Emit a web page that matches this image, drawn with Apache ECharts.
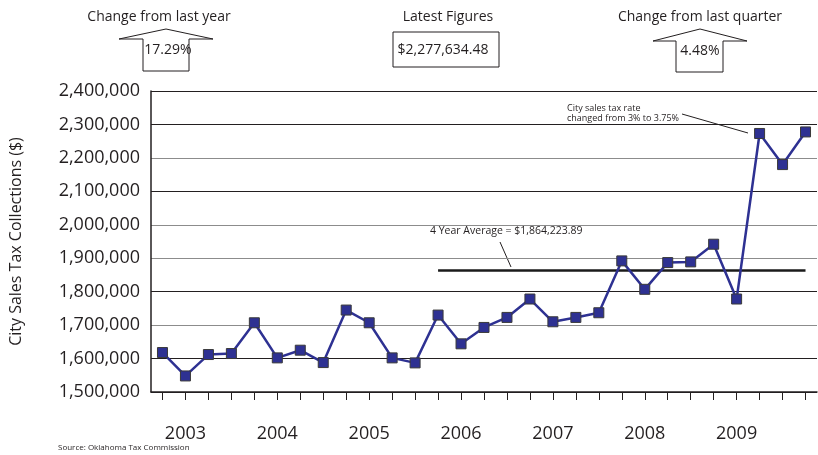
<!DOCTYPE html>
<html>
<head>
<meta charset="utf-8">
<script src="https://cdn.jsdelivr.net/npm/echarts@6/dist/echarts.min.js"></script>
<style>
html,body{margin:0;padding:0;background:#fff;}
#c{width:818px;height:455px;}
</style>
</head>
<body>
<div id="c"></div>
<script>
// ---- data ----
const years = ['2003','2004','2005','2006','2007','2008','2009','2010'];
const yearLabels = ['2003','2004','2005','2006','2007','2008','2009'];
const quarters = [];
years.forEach(y => ['Q1','Q2','Q3','Q4'].forEach(q => quarters.push(y + ' ' + q)));
const categories = quarters.slice(0, 29);
const collections = [1618000,1548000,1612000,1615000,1707000,1602000,1625000,1588000,
  1745000,1707000,1602000,1587000,1730000,1644000,1693000,1723000,
  1778000,1710000,1723000,1737000,1892000,1807000,1887000,1889000,
  1941883,1778000,2273000,2179971,2277634];
const yTicks = [1500000, 2400000, 100000]; // min, max, interval
const fourYearAverage = 1864223.89;
const averageRange = [12, 28];
const headerTitles = ['Change from last year', 'Latest Figures', 'Change from last quarter'];
const headerValues = ['17.29%', '$2,277,634.48', '4.48%'];
const averageLabel = '4 Year Average = $1,864,223.89';
const rateNote = ['City sales tax rate', 'changed from 3% to 3.75%'];
const sourceNote = 'Source: Oklahoma Tax Commission';
const yAxisTitle = 'City Sales Tax Collections ($)';

const FONT = 'Open Sans';
const TXT = '#231f20';
const DARK = '#231f20', GRAY = '#8c8c8c';

const chart = echarts.init(document.getElementById('c'), null, {renderer: 'canvas'});

function txt(x, y, s, size, align) {
  return {type: 'text', x: x, y: y, silent: true,
    style: {text: s, fontFamily: FONT, fontSize: size, fill: TXT,
      align: align || 'center', verticalAlign: 'middle'}};
}

chart.setOption({
  animation: false,
  backgroundColor: '#fff',
  grid: {left: 147, right: 1, top: 91, bottom: 63, containLabel: false},
  xAxis: {
    type: 'category',
    data: categories,
    boundaryGap: true,
    axisLine: {show: true, lineStyle: {color: DARK, width: 1.5}},
    axisTick: {show: true, alignWithLabel: true, interval: 0, length: 8, lineStyle: {color: DARK, width: 1}},
    axisLabel: {
      interval: (i) => i % 4 === 1 && yearLabels.indexOf(categories[i].slice(0, 4)) >= 0,
      formatter: (v) => v.slice(0, 4),
      margin: 33,
      fontFamily: FONT, fontSize: 18, color: TXT
    },
    splitLine: {show: false}
  },
  yAxis: {
    type: 'value',
    min: yTicks[0], max: yTicks[1], interval: yTicks[2],
    name: yAxisTitle,
    nameLocation: 'middle',
    nameGap: 127,
    nameTextStyle: {fontFamily: FONT, fontSize: 16, color: TXT},
    axisLine: {show: true, lineStyle: {color: DARK, width: 1.5}},
    axisTick: {show: false},
    axisLabel: {
      margin: 11,
      fontFamily: FONT, fontSize: 18, color: TXT,
      formatter: (v) => v.toLocaleString('en-US')
    },
    splitLine: {show: true, lineStyle: {
      color: [DARK, DARK, GRAY, DARK, GRAY, GRAY, DARK, GRAY, DARK, DARK],
      width: 1.2}}
  },
  series: [{
    type: 'line',
    data: collections,
    symbol: 'rect',
    symbolSize: 10,
    showAllSymbol: true,
    lineStyle: {color: '#2e3192', width: 2.5},
    itemStyle: {color: '#2e3192', borderColor: '#3a3a3a', borderWidth: 1},
    z: 5,
    markLine: {
      silent: true,
      symbol: ['none', 'none'],
      label: {show: false},
      lineStyle: {color: '#1a1a1a', width: 2.5, type: 'solid'},
      data: [[{coord: [averageRange[0], fourYearAverage]}, {coord: [averageRange[1], fourYearAverage]}]]
    }
  }],
  graphic: [
    txt(159, 17, headerTitles[0], 14),
    {type: 'polyline', silent: true,
      shape: {points: [[143,39],[119,39],[166,29],[213,39],[189,39],[189,71],[143,71],[143,39]]},
      style: {stroke: DARK, lineWidth: 1, fill: null}},
    txt(168, 50, headerValues[0], 14),

    txt(448, 17, headerTitles[1], 14),
    {type: 'rect', silent: true, shape: {x: 393, y: 32, width: 106, height: 35},
      style: {stroke: DARK, lineWidth: 1, fill: null}},
    txt(443, 50, headerValues[1], 14),

    txt(700, 17, headerTitles[2], 14),
    {type: 'polyline', silent: true,
      shape: {points: [[676,41],[653,41],[700,29],[747,41],[723,41],[723,72],[676,72],[676,41]]},
      style: {stroke: DARK, lineWidth: 1, fill: null}},
    txt(700, 51, headerValues[2], 14),

    txt(430, 231, averageLabel, 10.5, 'left'),
    {type: 'line', silent: true, shape: {x1: 500, y1: 242, x2: 511, y2: 267},
      style: {stroke: DARK, lineWidth: 1}},

    txt(567, 108, rateNote[0], 9, 'left'),
    txt(567, 118.5, rateNote[1], 9, 'left'),
    {type: 'line', silent: true, shape: {x1: 682, y1: 114, x2: 748, y2: 133},
      style: {stroke: DARK, lineWidth: 1}},

    txt(58, 448, sourceNote, 8, 'left')
  ]
});
</script>
</body>
</html>
